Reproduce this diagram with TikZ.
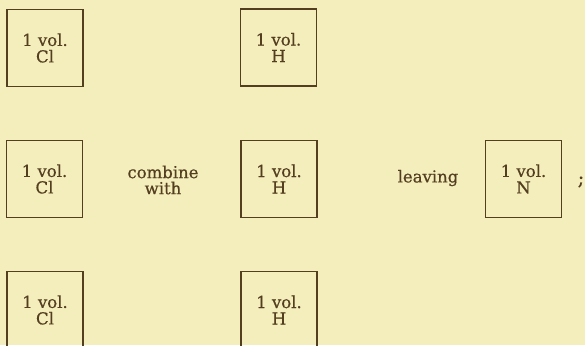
\documentclass[tikz,border=0pt]{standalone}
\usepackage{fontspec}
\setmainfont{DejaVu Serif}
\newfontfamily\heavy[FakeBold=0.6]{DejaVu Serif}
\definecolor{paper}{RGB}{244,238,188}
\definecolor{ink}{RGB}{84,62,32}
\tikzset{
  volbox/.style={draw=ink, line width=1.1pt, minimum width=76pt, minimum height=77pt,
    inner sep=0pt, align=center, text=ink, font=\heavy\fontsize{16.5}{16.5}\selectfont},
  word/.style={text=ink, align=center, inner sep=0pt, font=\heavy\fontsize{16.5}{16}\selectfont}
}
\begin{document}
\begin{tikzpicture}[x=1pt,y=-1pt]
\useasboundingbox (0,0) rectangle (585,345);
\fill[paper] (0,0) rectangle (585,345);
\clip (0,0) rectangle (585,345);
% row 1
\node[volbox] (cla) at (45,48) {1 vol.\\Cl};
\node[volbox] (ha) at (278.5,47.5) {1 vol.\\H};
% row 2
\node[volbox] (clb) at (44.5,179) {1 vol.\\Cl};
\node[word] (comb) at (163,180) {combine\\with};
\node[volbox] (hb) at (279,179) {1 vol.\\H};
\node[word] (leav) at (428,178) {leaving};
\node[volbox] (nb) at (523.5,179) {1 vol.\\N};
\node[word, font=\heavy\fontsize{19}{19}\selectfont] (semi) at (581,182) {;};
% row 3
\node[volbox] (clc) at (45,310) {1 vol.\\Cl};
\node[volbox] (hc) at (279,310) {1 vol.\\H};
\end{tikzpicture}
\end{document}
